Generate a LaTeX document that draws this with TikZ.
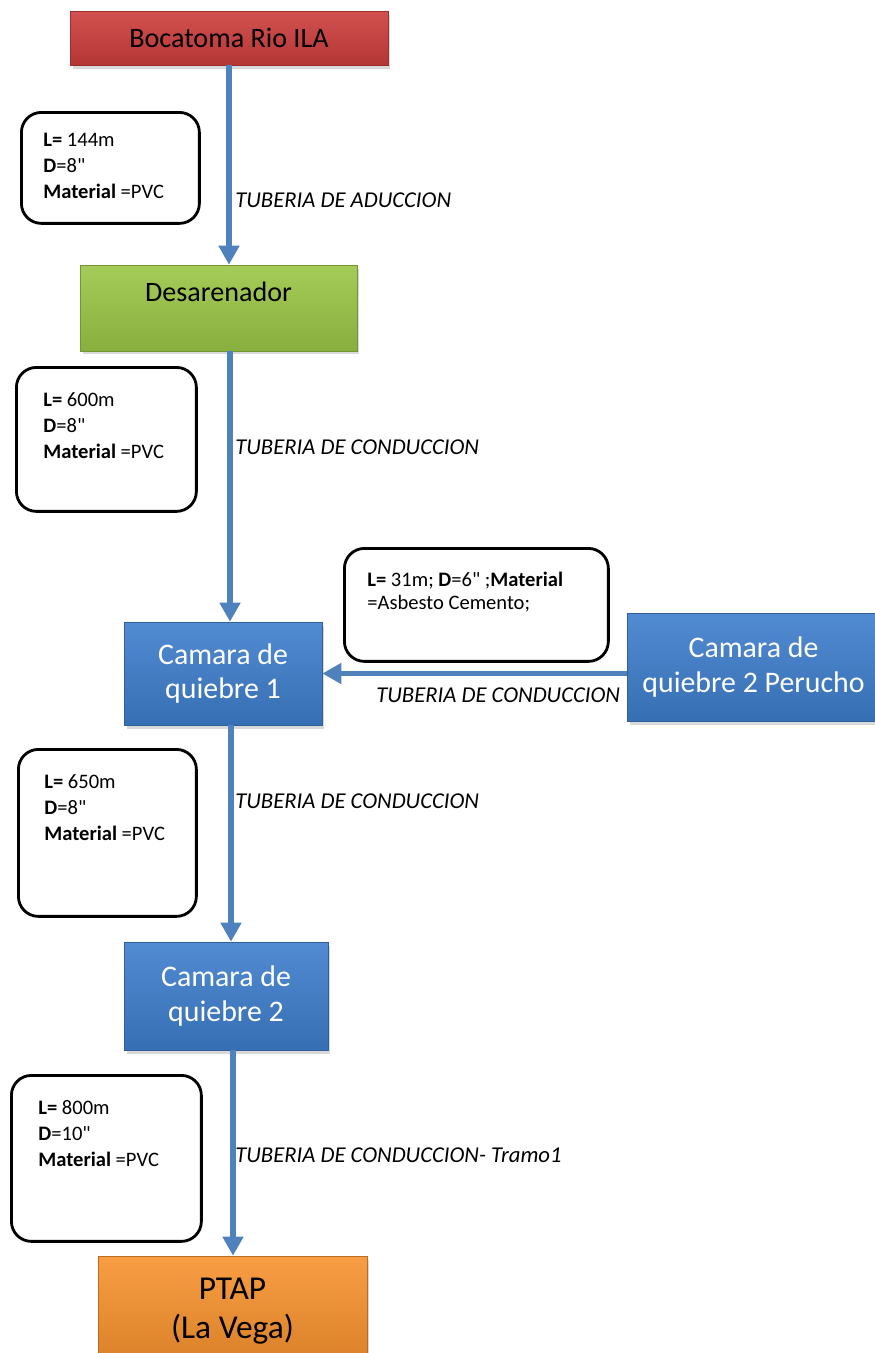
\documentclass[tikz,border=0pt]{standalone}
\usepackage{fontspec}
\setmainfont{Carlito}[Ligatures=TeXOff]
\usetikzlibrary{arrows.meta, shadows}
\definecolor{bocared}{RGB}{205,62,60}
\definecolor{desagreen}{RGB}{155,198,70}
\definecolor{camblue}{RGB}{62,126,204}
\definecolor{ptaporange}{RGB}{247,146,46}
\definecolor{pipeblue}{RGB}{79,129,189}

\begin{document}
\begin{tikzpicture}[x=0.02cm, y=-0.02cm,
    stage/.style={draw=#1!75!black, line width=0.4pt, top color=#1!90!white, middle color=#1, bottom color=#1!88!black,
        drop shadow={shadow xshift=0.05cm, shadow yshift=-0.07cm, opacity=0.3}, align=center, inner sep=0pt},
    pipe/.style={draw=pipeblue, line width=3.4pt, -{Triangle[width=0.4cm,length=0.38cm]}},
    specbox/.style={draw, line width=1.6pt, rounded corners=0.4cm, anchor=north west, inner sep=0pt,
        font=\fontsize{11.7}{14.8}\selectfont},
    pipelabel/.style={font=\itshape\fontsize{12.9}{15}\selectfont, anchor=base west, inner sep=0pt}]
    \useasboundingbox (0,0) rectangle (875,1353);

    % stages of the line
    \node[stage=bocared, minimum width=6.36cm, minimum height=1.08cm, font=\fontsize{16}{19}\selectfont] (boca) at (229,38) {Bocatoma Rio ILA};
    \node[stage=desagreen, minimum width=5.54cm, minimum height=1.72cm, text depth=0.67cm, font=\fontsize{16}{19}\selectfont] (desa) at (218.5,308) {Desarenador};
    \node[stage=camblue, minimum width=3.96cm, minimum height=2.06cm, text=white, font=\fontsize{17}{19.8}\selectfont] (cqa) at (223,673.5) {Camara de\\quiebre 1};
    \node[stage=camblue, minimum width=5.06cm, minimum height=2.16cm, text=white, font=\fontsize{17}{19.8}\selectfont] (peru) at (753.5,667) {Camara de\\quiebre 2 Perucho};
    \node[stage=camblue, minimum width=4.08cm, minimum height=2.16cm, text=white, font=\fontsize{17}{19.8}\selectfont] (cqb) at (226,996) {Camara de\\quiebre 2};
    \node[stage=ptaporange, minimum width=5.38cm, minimum height=2.2cm, font=\fontsize{19}{22}\selectfont] (ptap) at (232.5,1311) {PTAP\\(La Vega)};

    % pipes
    \draw[pipe] (boca.south) -- (boca.south |- desa.north);
    \draw[pipe] ([xshift=0.23cm]desa.south) -- ([xshift=0.23cm]desa.south |- cqa.north);
    \draw[pipe] (peru.west |- cqa.east) -- (cqa.east);
    \draw[pipe] ([xshift=0.16cm]cqa.south) -- ([xshift=0.16cm]cqa.south |- cqb.north);
    \draw[pipe] ([xshift=0.14cm]cqb.south) -- ([xshift=0.14cm]cqb.south |- ptap.north);

    % pipe data
    \node[specbox] (lenA) at (20,111) {\parbox[c][2.22cm][t]{3.56cm}{\raggedright\leftskip=0.44cm\vspace*{0.42cm}%
        \textbf{L=} 144m\\ \textbf{D}=8"\\ \textbf{Material} =PVC}};
    \node[specbox] (lenB) at (15,366) {\parbox[c][2.88cm][t]{3.6cm}{\raggedright\leftskip=0.54cm\vspace*{0.5cm}%
        \textbf{L=} 600m\\ \textbf{D}=8"\\ \textbf{Material} =PVC}};
    \node[specbox] (lenC) at (343,547) {\parbox[c][2.26cm][t]{5.28cm}{\raggedright\leftskip=0.46cm\baselineskip=13pt\vspace*{0.48cm}%
        \textbf{L=} 31m; \textbf{D}=6" ;\textbf{Material}\\ =Asbesto Cemento;}};
    \node[specbox] (lenD) at (17,748) {\parbox[c][3.34cm][t]{3.56cm}{\raggedright\leftskip=0.52cm\vspace*{0.5cm}%
        \textbf{L=} 650m\\ \textbf{D}=8"\\ \textbf{Material} =PVC}};
    \node[specbox] (lenE) at (10,1074) {\parbox[c][3.32cm][t]{3.8cm}{\raggedright\leftskip=0.54cm\vspace*{0.5cm}%
        \textbf{L=} 800m\\ \textbf{D}=10"\\ \textbf{Material} =PVC}};

    % pipe names
    \node[pipelabel] (lblA) at (235,207) {TUBERIA DE ADUCCION};
    \node[pipelabel] (lblB) at (235,454) {TUBERIA DE CONDUCCION};
    \node[pipelabel] (lblC) at (376,702) {TUBERIA DE CONDUCCION};
    \node[pipelabel] (lblD) at (235,808) {TUBERIA DE CONDUCCION};
    \node[pipelabel] (lblE) at (235,1162) {TUBERIA DE CONDUCCION- Tramo1};
\end{tikzpicture}
\end{document}
